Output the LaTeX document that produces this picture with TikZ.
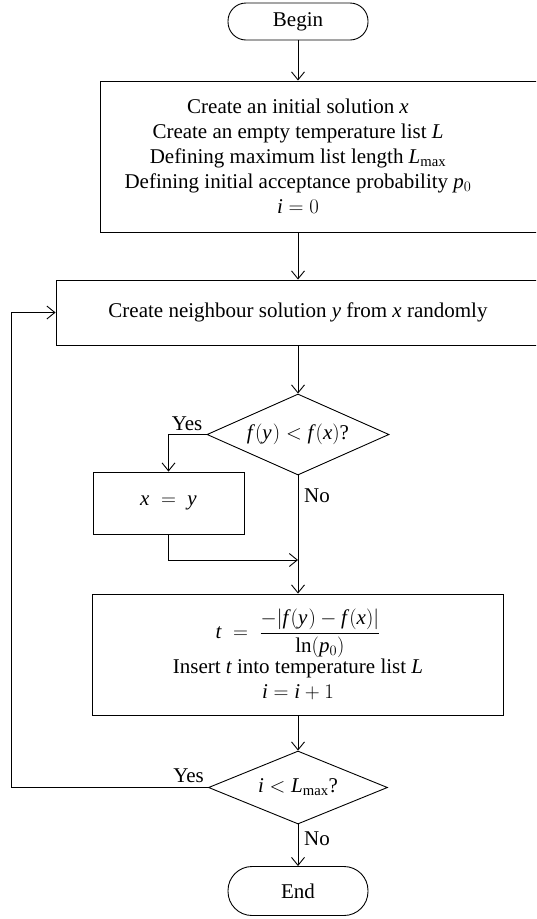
\documentclass[tikz,border=0pt]{standalone}
\usepackage{fontspec}
\setmainfont{Liberation Serif}
\usetikzlibrary{arrows.meta,shapes.geometric}
\newcommand\vi[1]{\mathit{#1}}
\newcommand\fn{\mathit{f}\mkern2mu}
\begin{document}
\begin{tikzpicture}[x=1pt,y=-1pt,
  every node/.style={font=\fontsize{21}{25}\selectfont},
  box/.style={draw, line width=0.9pt, inner sep=0pt},
  txt/.style={inner sep=0pt, align=center},
  term/.style={draw, line width=0.9pt, inner sep=0pt, minimum width=140pt},
  dia/.style={draw, line width=0.9pt, shape=diamond, aspect=2.25, inner sep=0pt},
  arr/.style={-{Straight Barb[length=8pt,width=13pt]}, line width=0.9pt},
  lbl/.style={inner sep=0pt}]
\useasboundingbox (0,0) rectangle (536,919);
\clip (0,0) rectangle (536,919);

\node[term, minimum height=37pt, rounded corners=18pt] (begin) at (298,21.5) {Begin};

\node[box, minimum width=460pt, minimum height=151pt] (init) at (330,156.5) {};
\node[txt] (inittext) at (298,156.5) {Create an initial solution $\vi{x}$\\
  Create an empty temperature list $\vi{L}$\\
  Defining maximum list length $\vi{L}_{\mathrm{max}}$\\
  Defining initial acceptance probability $\vi{p}_0$\\
  $\vi{i} = 0$};

\node[box, minimum width=504pt, minimum height=65pt] (neigh) at (308,312.5) {};
\node[txt] (neightext) at (298,312.5) {Create neighbour solution $\vi{y}$ from $\vi{x}$ randomly};

\node[dia, minimum width=182pt, minimum height=81pt] (cmp) at (298,434.5) {$\fn(\vi{y}\mkern1mu) < \fn(\vi{x})$?};

\node[box, minimum width=151pt, minimum height=62pt] (swap) at (168.5,503) {$\vi{x} \;=\; \vi{y}$};

\node[box, minimum width=411pt, minimum height=121pt, align=center] (upd) at (298,654.5)
  {$\displaystyle \vi{t} \;=\; \frac{-|\fn(\vi{y}\mkern1mu) - \fn(\vi{x})|}{\ln(\vi{p}_0)}$\\
   Insert $\vi{t}$ into temperature list $\vi{L}$\\
   $\vi{i} = \vi{i} + 1$};

\node[dia, minimum width=179pt, minimum height=73pt] (chk) at (298,787.5) {$\vi{i} < \vi{L}_{\mathrm{max}}$?};

\node[term, minimum height=49pt, rounded corners=24pt] (end) at (298,891) {End};

\coordinate (join) at (298,560);
\coordinate (loop) at (11,787.5);

\draw[arr] (begin.south) -- (begin.south |- init.north);
\draw[arr] (begin.south |- init.south) -- (begin.south |- neigh.north);
\draw[arr] (begin.south |- neigh.south) -- (cmp.north);
\draw[arr] (cmp.west) -| (swap.north);
\draw[arr] (swap.south) |- (join);
\draw[arr] (cmp.south) -- (upd.north);
\draw[arr] (upd.south) -- (chk.north);
\draw[arr] (chk.west) -- (loop) |- (neigh.west);
\draw[arr] (chk.south) -- (end.north);

\node[lbl, anchor=base east] (yes1) at ([xshift=-4pt,yshift=4.5pt]cmp.west) {Yes};
\node[lbl, anchor=base west] (no1) at ([xshift=6pt,yshift=-27pt]cmp.south) {No};
\node[lbl, anchor=base east] (yes2) at ([xshift=-4pt,yshift=5.5pt]chk.west) {Yes};
\node[lbl, anchor=base west] (no2) at ([xshift=6pt,yshift=-21.5pt]chk.south) {No};
\end{tikzpicture}
\end{document}
